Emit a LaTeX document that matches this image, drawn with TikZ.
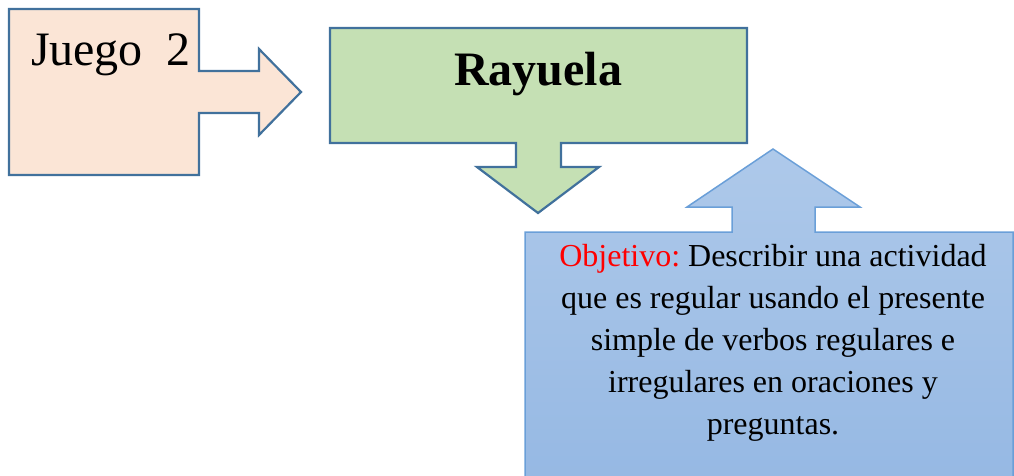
\documentclass[tikz,border=0pt]{standalone}
\usepackage{fontspec}
\setmainfont{Liberation Serif}
\frenchspacing
\definecolor{peachfill}{HTML}{FBE5D6}
\definecolor{greenfill}{HTML}{C5E0B4}
\definecolor{darkedge}{HTML}{41719C}
\definecolor{bluetop}{HTML}{AEC9EA}
\definecolor{bluebot}{HTML}{95B8E3}
\definecolor{blueedge}{HTML}{6A9FD8}
\begin{document}
\begin{tikzpicture}[x=1pt,y=-1pt,
  callout/.style={line width=2.2pt,draw=darkedge,line join=miter},
  lbl/.style={inner sep=0pt,text=black}]
\useasboundingbox (0,0) rectangle (1014,475);
% peach callout with right arrow
\draw[callout,fill=peachfill] (9,9) -- (199,9) -- (199,71) -- (259,71) -- (259,49) -- (301,92)
  -- (259,135) -- (259,113) -- (199,113) -- (199,175) -- (9,175) -- cycle;
% green callout with down arrow
\draw[callout,fill=greenfill] (330,28) -- (747,28) -- (747,143) -- (561,143) -- (561,167) -- (599,167)
  -- (538,213) -- (477,167) -- (516,167) -- (516,143) -- (330,143) -- cycle;
% blue callout with up arrow
\begin{scope}
\clip (0,0) rectangle (1014,475);
\path[top color=bluetop,bottom color=bluebot] (525,490) -- (525,232) -- (732,232) -- (732,207) -- (687,207)
  -- (773,149) -- (860,207) -- (815,207) -- (815,232) -- (1013,232) -- (1013,490) -- cycle;
\draw[line width=1.5pt,draw=blueedge] (525,490) -- (525,232) -- (732,232) -- (732,207) -- (687,207)
  -- (773,149) -- (860,207) -- (815,207) -- (815,232) -- (1013,232) -- (1013,490);
\end{scope}
% texts
\node[lbl,anchor=base] (juego) at (111,65) {\fontsize{48}{56}\selectfont Juego\ \ 2};
\node[lbl,anchor=base] (rayuela) at (538,85) {\fontsize{48}{56}\selectfont\bfseries Rayuela};
\node[lbl,anchor=north,align=center,font=\fontsize{32}{42}\selectfont] (obj) at (773,244)
  {\textcolor{red}{Objetivo:} Describir una actividad\\ que es regular usando el presente\\
   simple de verbos regulares e\\ irregulares en oraciones y\\ preguntas.};
\end{tikzpicture}
\end{document}
